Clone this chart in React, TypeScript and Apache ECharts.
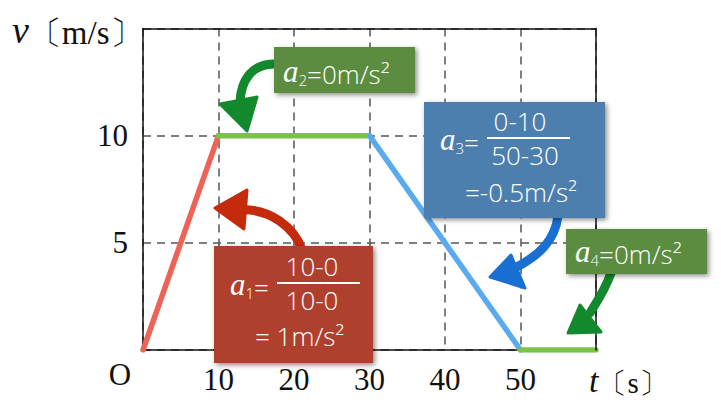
import React, { useEffect, useRef } from "react";
import * as echarts from "echarts";

const xTicks = [10, 20, 30, 40, 50];
const yTicks = [5, 10];
const accelSeg: [number, number][] = [[0, 0], [10, 10]];
const constSeg: [number, number][] = [[10, 10], [30, 10]];
const decelSeg: [number, number][] = [[30, 10], [50, 0]];
const restSeg: [number, number][] = [[50, 0], [60, 0]];

const SERIF = "'Liberation Serif', 'DejaVu Serif', serif";
const SANS = "'Open Sans', Roboto, 'DejaVu Sans', sans-serif";
const FS = 26;

function aLabel(sub: string, rest: string) {
  return {
    text: `{a|a}{s|${sub}}{e|${rest}}`,
    rich: {
      a: { fontFamily: SERIF, fontStyle: "italic", fontSize: 31, fill: "#fff", verticalAlign: "bottom", lineHeight: 32 },
      s: { fontFamily: SANS, fontSize: 15, fill: "#fff", fontWeight: 300, verticalAlign: "bottom", lineHeight: 22 },
      e: { fontFamily: SANS, fontSize: FS, fill: "#fff", fontWeight: 300, verticalAlign: "bottom", lineHeight: 30 },
    },
  };
}

function txt(x: number, y: number, s: any, align = "left") {
  return {
    type: "text",
    x,
    y,
    z: 20,
    style: Object.assign(
      { fill: "#fff", fontFamily: SANS, fontSize: FS, fontWeight: 300, align, verticalAlign: "middle" },
      typeof s === "string" ? { text: s } : s
    ),
  };
}

function box(x: number, y: number, w: number, h: number, color: string) {
  return {
    type: "rect",
    z: 15,
    shape: { x, y, width: w, height: h },
    style: { fill: color, shadowBlur: 5, shadowColor: "rgba(0,0,0,0.45)", shadowOffsetX: 2, shadowOffsetY: 2 },
  };
}

function arrow(shaft: number[], head: number[][], color: string) {
  return [
    {
      type: "bezierCurve",
      z: 12,
      shape: { x1: shaft[0], y1: shaft[1], cpx1: shaft[2], cpy1: shaft[3], cpx2: shaft[4], cpy2: shaft[5], x2: shaft[6], y2: shaft[7] },
      style: { stroke: color, lineWidth: 9, fill: null, lineCap: "round" },
    },
    { type: "polygon", z: 12, shape: { points: head }, style: { fill: color, stroke: color, lineWidth: 3, lineJoin: "round" } },
  ];
}

export default function App() {
  const ref = useRef<HTMLDivElement>(null);
  useEffect(() => {
    const chart = echarts.init(ref.current!, null, { renderer: "svg" });
    const lineSeries = (data: [number, number][], color: string) => ({
      type: "line",
      data,
      showSymbol: false,
      symbol: "none",
      lineStyle: { color, width: 5.5, cap: "round" },
      z: 5,
    });
    const white = "#fff";
    chart.setOption({
      animation: false,
      backgroundColor: "#fff",
      grid: { left: 143, top: 28.5, width: 453, height: 321.5, show: false },
      xAxis: [
        {
          type: "value",
          min: 0,
          max: 60,
          interval: 10,
          axisLine: { show: true, onZero: false, lineStyle: { color: "#111", width: 1.5 } },
          axisTick: { show: false },
          axisLabel: {
            margin: 14,
            fontFamily: SERIF,
            fontSize: 31,
            color: "#111",
            formatter: (v: number) => (xTicks.includes(v) ? String(v) : ""),
          },
          splitLine: { show: true, lineStyle: { color: "#555", width: 1.5, type: [8, 6] } },
        },
        {
          type: "value",
          position: "top",
          min: 0,
          max: 60,
          z: 6,
          axisLine: { show: true, onZero: false, lineStyle: { color: "#111", width: 1.5 } },
          axisTick: { show: false },
          axisLabel: { show: false },
          splitLine: { show: false },
        },
      ],
      yAxis: [
        {
          type: "value",
          min: 0,
          max: 15,
          interval: 5,
          axisLine: { show: true, onZero: false, lineStyle: { color: "#111", width: 1.5 } },
          axisTick: { show: false },
          axisLabel: {
            margin: 15,
            fontFamily: SERIF,
            fontSize: 31,
            color: "#111",
            formatter: (v: number) => (yTicks.includes(v) ? String(v) : ""),
          },
          splitLine: { show: true, lineStyle: { color: "#555", width: 1.5, type: [8, 6] } },
        },
        {
          type: "value",
          position: "right",
          min: 0,
          max: 15,
          z: 6,
          axisLine: { show: true, onZero: false, lineStyle: { color: "#111", width: 1.5 } },
          axisTick: { show: false },
          axisLabel: { show: false },
          splitLine: { show: false },
        },
      ],
      series: [
        lineSeries(accelSeg, "#ef6258"),
        lineSeries(constSeg, "#7cc247"),
        lineSeries(decelSeg, "#5aaaf0"),
        lineSeries(restSeg, "#7cc247"),
      ],
      graphic: [
        {
          type: "text",
          x: 12,
          y: 30,
          style: {
            text: "{v|v}{u|〔m/s〕}",
            verticalAlign: "middle",
            rich: {
              v: { fontFamily: SERIF, fontStyle: "italic", fontSize: 38, fill: "#111", verticalAlign: "bottom" },
              u: { fontFamily: SERIF, fontSize: 33, fill: "#111", verticalAlign: "bottom" },
            },
          },
        },
        {
          type: "text",
          x: 120,
          y: 374,
          style: { text: "O", fontFamily: SERIF, fontSize: 31, fill: "#111", align: "center", verticalAlign: "middle" },
        },
        {
          type: "text",
          x: 589,
          y: 380,
          style: {
            text: "{v|t}{u|〔s〕}",
            verticalAlign: "middle",
            rich: {
              v: { fontFamily: SERIF, fontStyle: "italic", fontSize: 34, fill: "#111", verticalAlign: "bottom" },
              u: { fontFamily: SERIF, fontSize: 29, fill: "#111", verticalAlign: "bottom" },
            },
          },
        },
        ...arrow([274, 64, 252, 64, 241, 80, 240, 102], [[220, 104], [257, 97], [247, 131]], "#12892c"),
        ...arrow([302, 250, 295, 228, 270, 208, 240, 210], [[215, 208], [247, 190], [244, 229]], "#c62a0c"),
        ...arrow([558, 216, 555, 240, 540, 255, 515, 268], [[490, 277], [511, 255], [525, 288]], "#1a6fd2"),
        ...arrow([611, 273, 605, 290, 598, 300, 590, 313], [[580, 305], [568, 333], [601, 332]], "#12892c"),
        box(214, 246, 159, 117, "#b0412e"),
        txt(230, 284, aLabel("1", "=")),
        txt(312, 266, "10-0", "center"),
        { type: "line", z: 20, shape: { x1: 277, y1: 283, x2: 360, y2: 283 }, style: { stroke: white, lineWidth: 2 } },
        txt(312, 300, "10-0", "center"),
        txt(255, 336, "= 1m/s²"),
        box(274, 47, 141, 46, "#5c8c40"),
        txt(283, 71, aLabel("2", "=0m/s²")),
        box(424, 102, 181, 116, "#4e7fae"),
        txt(440, 139, aLabel("3", "=")),
        txt(520, 121, "0-10", "center"),
        { type: "line", z: 20, shape: { x1: 487, y1: 138, x2: 570, y2: 138 }, style: { stroke: white, lineWidth: 2 } },
        txt(525, 155, "50-30", "center"),
        txt(465, 192, "=-0.5m/s²"),
        box(566, 229, 141, 45, "#5c8c40"),
        txt(575, 251, aLabel("4", "=0m/s²")),
      ],
    });
    return () => chart.dispose();
  }, []);
  return <div ref={ref} style={{ position: "absolute", left: 0, top: 0, width: 721, height: 409 }} />;
}
